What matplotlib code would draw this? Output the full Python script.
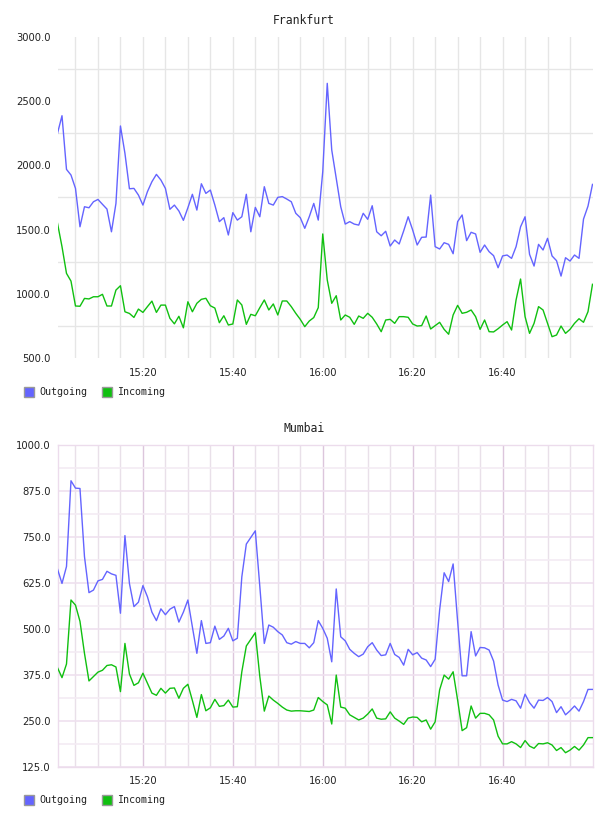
import matplotlib
matplotlib.use("Agg")
import matplotlib.pyplot as plt
from matplotlib.patches import Rectangle

# ---- data -------------------------------------------------------------
minutes = list(range(1, 121))            # minutes after 15:00 (15:01 .. 17:00)
x_tick_minutes = [20, 40, 60, 80, 100]
x_tick_labels = ["15:20", "15:40", "16:00", "16:20", "16:40"]
x_grid_minutes = list(range(5, 120, 5))

fra_out = [2250, 2387, 1969, 1925, 1821, 1522, 1678, 1670, 1717, 1735, 1697, 1660, 1483, 1704, 2307,
           2094, 1818, 1821, 1769, 1691, 1795, 1873, 1930, 1886, 1821, 1658, 1691, 1645, 1572, 1670,
           1775, 1652, 1857, 1782, 1808, 1691, 1562, 1593, 1458, 1632, 1574, 1600, 1775, 1483, 1673,
           1600, 1834, 1704, 1691, 1751, 1757, 1738, 1717, 1627, 1593, 1510, 1600, 1704, 1574, 1951,
           2639, 2120, 1899, 1678, 1543, 1562, 1543, 1535, 1627, 1580, 1686, 1483, 1452, 1487, 1372,
           1419, 1388, 1490, 1600, 1497, 1380, 1440, 1442, 1769, 1367, 1349, 1398, 1385, 1312, 1562,
           1614, 1414, 1479, 1466, 1323, 1380, 1328, 1297, 1203, 1295, 1302, 1276, 1367, 1522, 1600,
           1307, 1216, 1385, 1341, 1432, 1295, 1258, 1138, 1281, 1255, 1302, 1276, 1582, 1683, 1852]
fra_in = [1549, 1367, 1159, 1099, 905, 903, 964, 960, 977, 977, 996, 905, 905, 1029, 1063,
          860, 847, 816, 881, 855, 900, 943, 855, 912, 912, 809, 766, 825, 735, 938,
          860, 926, 957, 965, 907, 889, 775, 829, 757, 765, 952, 913, 762, 840, 829,
          892, 952, 874, 921, 835, 944, 944, 900, 848, 801, 744, 788, 815, 892, 1466,
          1108, 926, 985, 796, 835, 817, 762, 827, 809, 848, 817, 765, 705, 796, 801,
          770, 822, 822, 817, 765, 749, 752, 827, 726, 752, 778, 723, 685, 835, 910,
          848, 856, 874, 822, 723, 796, 705, 703, 728, 757, 783, 718, 952, 1115, 822,
          692, 770, 900, 874, 770, 666, 679, 749, 692, 723, 770, 806, 778, 861, 1074]
mum_out = [662, 623, 669, 902, 882, 881, 696, 598, 605, 630, 634, 656, 649, 645, 542,
           753, 623, 560, 572, 617, 587, 545, 522, 554, 538, 553, 560, 518, 545, 578,
           505, 433, 522, 460, 462, 507, 471, 480, 501, 467, 474, 641, 730, 748, 766,
           615, 460, 510, 504, 492, 483, 462, 458, 465, 460, 460, 448, 462, 522, 501,
           474, 410, 608, 478, 467, 444, 433, 424, 431, 451, 462, 442, 427, 429, 460,
           430, 422, 401, 444, 429, 435, 420, 415, 397, 417, 551, 652, 628, 676, 520,
           372, 372, 492, 426, 449, 448, 442, 412, 347, 306, 302, 308, 304, 284, 322,
           299, 284, 306, 305, 313, 302, 272, 288, 266, 277, 290, 276, 302, 335, 335]
mum_in = [394, 367, 404, 578, 564, 520, 433, 358, 370, 382, 387, 400, 402, 396, 329,
          460, 377, 346, 353, 379, 352, 325, 319, 338, 325, 338, 339, 311, 338, 349,
          305, 259, 321, 277, 285, 308, 289, 291, 306, 287, 288, 383, 453, 471, 489,
          370, 276, 317, 306, 297, 287, 279, 276, 277, 277, 276, 275, 279, 313, 302,
          293, 241, 374, 287, 284, 266, 259, 252, 257, 268, 282, 257, 254, 255, 274,
          257, 249, 240, 257, 260, 259, 247, 252, 227, 247, 334, 374, 363, 383, 306,
          223, 231, 290, 257, 270, 270, 266, 252, 208, 187, 187, 193, 187, 177, 196,
          181, 175, 188, 187, 190, 184, 169, 177, 163, 170, 180, 170, 184, 204, 204]

fra_yticks = [500, 1000, 1500, 2000, 2500, 3000]
fra_ygrid = [750, 1250, 1750, 2250, 2750]
mum_yticks = [125, 250, 375, 500, 625, 750, 875, 1000]
mum_ygrid_minor = [187.5, 312.5, 437.5, 562.5, 687.5, 812.5, 937.5]

series_names = ["Outgoing", "Incoming"]
OUT_C = "#6464ff"
IN_C = "#10c010"

# ---- figure -----------------------------------------------------------
W, H = 608, 816
fig = plt.figure(figsize=(W / 100, H / 100), dpi=100)


def fx(px):
    return px / W


def fy(py):
    return 1 - py / H


def make_axes(top_px, bottom_px):
    return fig.add_axes([fx(57.5), fy(bottom_px), fx(592.5) - fx(57.5), fy(top_px) - fy(bottom_px)])


tick_font = dict(family="DejaVu Sans", size=7.2)
mono = "DejaVu Sans Mono"

# Frankfurt
ax1 = make_axes(37, 358)
ax1.set_xlim(minutes[0], minutes[-1])
ax1.set_ylim(fra_yticks[0], fra_yticks[-1])
ax1.set_yticks(fra_yticks)
ax1.set_yticklabels([f"{v:.1f}" for v in fra_yticks], **tick_font)
ax1.set_yticks(fra_ygrid, minor=True)
ax1.set_xticks(x_tick_minutes)
ax1.set_xticklabels(x_tick_labels, **tick_font)
ax1.set_xticks(x_grid_minutes, minor=True)
ax1.grid(False)
ax1.grid(which="minor", axis="both", color="#e6e6e6", lw=1.0)
ax1.grid(which="major", axis="x", color="#e6e6e6", lw=1.0)
for s in ax1.spines.values():
    s.set_visible(False)
ax1.plot(minutes, fra_out, color=OUT_C, lw=1.0, zorder=3)
ax1.plot(minutes, fra_in, color=IN_C, lw=1.0, zorder=3)
ax1.set_axisbelow(True)

# Mumbai
ax2 = make_axes(444.7, 766.7)
ax2.set_xlim(minutes[0], minutes[-1])
ax2.set_ylim(mum_yticks[0], mum_yticks[-1])
ax2.set_yticks(mum_yticks)
ax2.set_yticklabels([f"{v:.1f}" for v in mum_yticks], **tick_font)
ax2.set_yticks(mum_ygrid_minor, minor=True)
ax2.set_xticks(x_tick_minutes)
ax2.set_xticklabels(x_tick_labels, **tick_font)
ax2.set_xticks(x_grid_minutes, minor=True)
ax2.grid(which="major", axis="y", color="#efe0ef", lw=1.2)
ax2.grid(which="minor", axis="y", color="#f3ebf3", lw=1.2)
ax2.grid(which="major", axis="x", color="#dcc6dc", lw=1.0)
ax2.grid(which="minor", axis="x", color="#e9e0e9", lw=1.0)
for s in ax2.spines.values():
    s.set_color("#ecdcec")
    s.set_linewidth(1.0)
ax2.plot(minutes, mum_out, color=OUT_C, lw=1.0, zorder=3)
ax2.plot(minutes, mum_in, color=IN_C, lw=1.0, zorder=3)
ax2.set_axisbelow(True)

for ax in (ax1, ax2):
    ax.tick_params(which="both", length=0, colors="#222222")
    ax.tick_params(axis="y", pad=5)
    ax.tick_params(axis="x", pad=7)

# titles
fig.text(0.5, fy(20), "Frankfurt", ha="center", va="center", family=mono, size=8.3, color="#222222")
fig.text(0.5, fy(429), "Mumbai", ha="center", va="center", family=mono, size=8.3, color="#222222")

# legends
for yc in (392, 800):
    for x0, name, col in ((24, series_names[0], OUT_C), (102, series_names[1], IN_C)):
        fig.patches.append(Rectangle((fx(x0), fy(yc + 5)), fx(10), 10 / H,
                                     transform=fig.transFigure, facecolor=col,
                                     edgecolor="#999999", lw=1.0))
        fig.text(fx(x0 + 15), fy(yc), name, ha="left", va="center", family=mono,
                 size=7.2, color="#222222")

fig.savefig("out.png", dpi=100)
